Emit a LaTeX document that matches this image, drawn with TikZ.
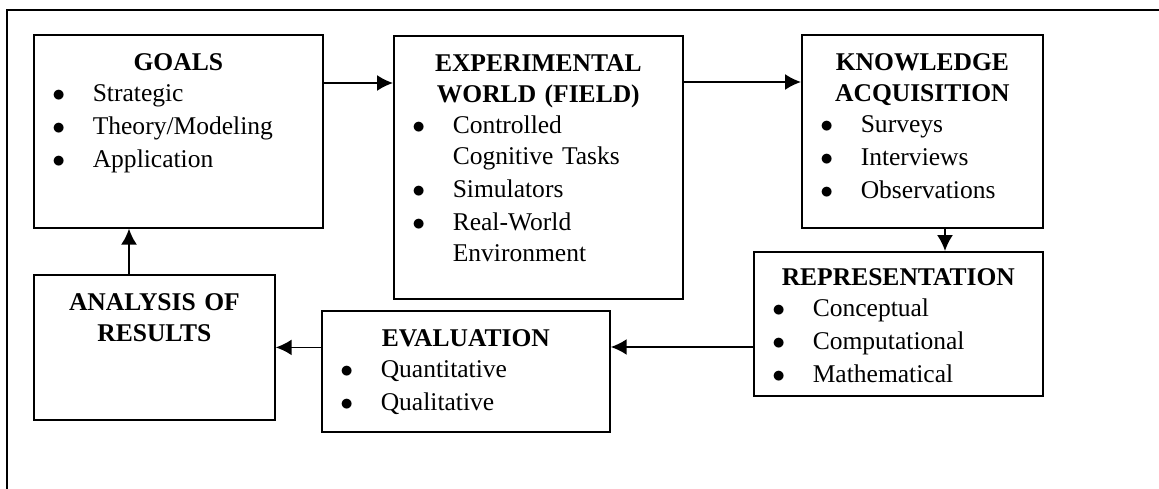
\documentclass[tikz,border=0pt]{standalone}
\usepackage{fontspec}
\setmainfont{Liberation Serif}
\usepackage{enumitem}
\usepackage{tikz}
\usetikzlibrary{arrows.meta}

\setlist[itemize]{label=$\bullet$, leftmargin=27.7pt, labelsep=13pt,
  topsep=0pt, partopsep=0pt, parsep=0pt, itemsep=1pt}

\begin{document}
\begin{tikzpicture}[
  x=0.47pt, y=-0.47pt,
  font=\fontsize{12}{14.5}\selectfont,
  box/.style={rectangle, draw, line width=0.8pt, anchor=north west,
              inner sep=0pt, text height=16.9pt},
  wide/.style={text width=135.8pt},
  narrow/.style={text width=113.3pt},
  arr/.style={-{Latex[length=7.5pt,width=7.5pt]}, line width=0.8pt},
  frameline/.style={line width=0.8pt}
]
\useasboundingbox (0,0) rectangle (1159,489);

% ---- outer frame (top and left edges only) ----
\draw[frameline] (1159,10) -| (7,489);

% ---- top row ----
\node[box, wide, text depth=73.8pt] (goals) at (33,34) {%
  {\centering\bfseries GOALS\par}
  \begin{itemize}
    \item Strategic
    \item Theory/Modeling
    \item Application
  \end{itemize}};
\node[box, wide, text depth=106.7pt] (exp) at (393,35) {%
  {\centering\bfseries EXPERIMENTAL\\WORLD (FIELD)\par}
  \begin{itemize}
    \item Controlled\\Cognitive Tasks
    \item Simulators
    \item Real-World\\Environment
  \end{itemize}};
\node[box, narrow, text depth=73.8pt] (ka) at (801,34) {%
  {\centering\bfseries KNOWLEDGE\\ACQUISITION\par}
  \begin{itemize}
    \item Surveys
    \item Interviews
    \item Observations
  \end{itemize}};

% ---- bottom row ----
\node[box, wide, text height=16pt, text depth=51.7pt] (rep) at (753,251) {%
  {\centering\bfseries REPRESENTATION\par}
  \begin{itemize}
    \item Conceptual
    \item Computational
    \item Mathematical
  \end{itemize}};
\node[box, text width=135.4pt, text depth=40pt] (eval) at (321,310) {%
  {\centering\bfseries EVALUATION\par}
  \begin{itemize}
    \item Quantitative
    \item Qualitative
  \end{itemize}};
\node[box, narrow, text depth=51.3pt] (ana) at (33,274) {%
  {\centering\bfseries ANALYSIS OF\\RESULTS\par}};

% ---- cycle ----
\draw[arr] (goals.east |- 0,83) -- (exp.west |- 0,83);
\draw[arr] (exp.east |- 0,82)   -- (ka.west |- 0,82);
\draw[arr] (ka.south -| 945,0)  -- (rep.north -| 945,0);
\draw[arr] (rep.west |- 0,347)  -- (eval.east |- 0,347);
\draw[arr] (eval.west |- ana.east) -- (ana.east);
\draw[arr] (ana.north -| 129,0) -- (goals.south -| 129,0);

\end{tikzpicture}
\end{document}
